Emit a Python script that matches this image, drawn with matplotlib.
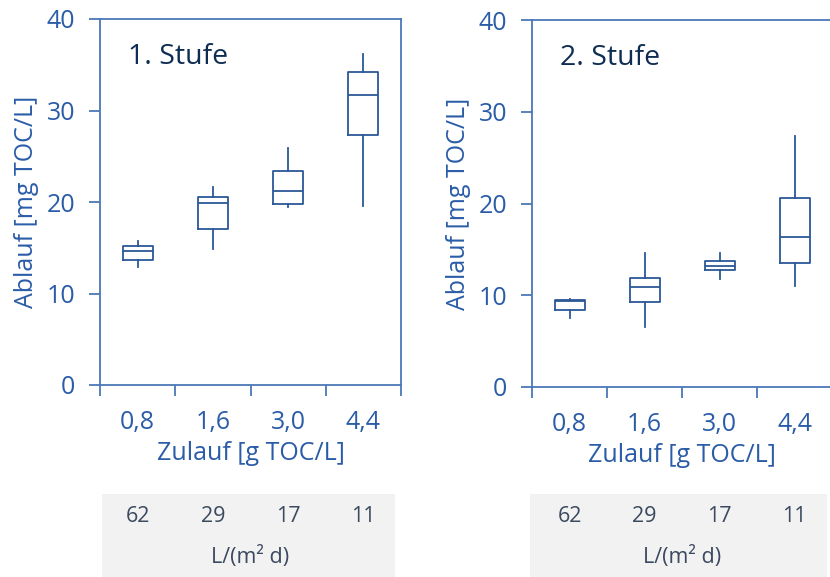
import matplotlib.pyplot as plt
from matplotlib.transforms import blended_transform_factory
from matplotlib.patches import Rectangle

plt.rcParams['font.family'] = ['Open Sans', 'DejaVu Sans']

zulauf = ['0,8', '1,6', '3,0', '4,4']
flux = ['62', '29', '17', '11']

# Stufe 1: whisker low, q1, median, q3, whisker high
s1_low = [12.9, 14.9, 19.4, 19.6]
s1_q1 = [13.7, 17.0, 19.8, 27.3]
s1_med = [14.6, 19.9, 21.2, 31.7]
s1_q3 = [15.2, 20.5, 23.4, 34.2]
s1_high = [15.7, 21.6, 25.9, 36.2]

# Stufe 2
s2_low = [7.5, 6.5, 11.8, 11.0]
s2_q1 = [8.4, 9.3, 12.7, 13.5]
s2_med = [9.4, 10.9, 13.2, 16.3]
s2_q3 = [9.5, 11.9, 13.7, 20.6]
s2_high = [9.6, 14.6, 14.6, 27.4]

box_col = '#2c5896'
spine_col = '#4a78b5'
tick_col = '#2a5ca8'
title_col = '#0f2d52'
table_txt = '#3b4a5e'

fig = plt.figure(figsize=(8.3, 5.77), dpi=100)

def panel(rect, low, q1, med, q3, high, title, right_spine, tbl):
    ax = fig.add_axes(rect)
    stats = []
    for i in range(len(zulauf)):
        stats.append({'whislo': low[i], 'q1': q1[i], 'med': med[i],
                      'q3': q3[i], 'whishi': high[i], 'fliers': []})
    ax.bxp(stats, positions=[0.5, 1.5, 2.5, 3.5], widths=0.4,
           showcaps=False, showfliers=False,
           boxprops=dict(color=box_col, linewidth=1.3),
           whiskerprops=dict(color=box_col, linewidth=1.3),
           medianprops=dict(color=box_col, linewidth=1.3))
    ax.set_xlim(0, 4)
    ax.set_ylim(0, 40)
    ax.set_yticks([0, 10, 20, 30, 40])
    ax.set_xticks([0, 1, 2, 3, 4])
    ax.set_xticklabels([])
    ax.set_xticks([0.5, 1.5, 2.5, 3.5], minor=True)
    ax.set_xticklabels(zulauf, minor=True)
    ax.tick_params(axis='x', which='minor', length=0, pad=18,
                   labelsize=18, labelcolor=tick_col)
    ax.tick_params(axis='x', which='major', length=8, width=1.3,
                   color=spine_col)
    ax.tick_params(axis='y', length=8, width=1.3, color=spine_col,
                   pad=10, labelsize=18, labelcolor=tick_col)
    for s in ax.spines.values():
        s.set_color(spine_col)
        s.set_linewidth(1.3)
    ax.spines['right'].set_visible(right_spine)
    ax.set_xlabel('Zulauf [g TOC/L]', fontsize=18, color=tick_col, labelpad=4)
    ax.set_ylabel('Ablauf [mg TOC/L]', fontsize=18, color=tick_col, labelpad=5)
    ax.text(0.37, 35.9, title, fontsize=20.5, color=title_col, va='center')

    # flux table below
    fig.patches.append(Rectangle((tbl[0], 0), tbl[1], 0.144,
                                 transform=fig.transFigure,
                                 facecolor='#f2f2f2', edgecolor='none',
                                 zorder=0))
    tr = blended_transform_factory(ax.transData, fig.transFigure)
    for i in range(len(flux)):
        fig.text(i + 0.5, 1 - 517 / 577, flux[i], transform=tr,
                 ha='center', va='center', fontsize=15.5, color=table_txt)
    fig.text(2.0, 1 - 557 / 577, 'L/(m² d)', transform=tr, ha='center',
             va='center', fontsize=15.5, color=table_txt)
    return ax

panel([100 / 830, 192 / 577, 301 / 830, 366 / 577],
      s1_low, s1_q1, s1_med, s1_q3, s1_high, '1. Stufe', True,
      (102 / 830, 293 / 830))
panel([532 / 830, 190 / 577, 300 / 830, 367 / 577],
      s2_low, s2_q1, s2_med, s2_q3, s2_high, '2. Stufe', False,
      (530 / 830, 297 / 830))

fig.savefig('out.png', dpi=100)
